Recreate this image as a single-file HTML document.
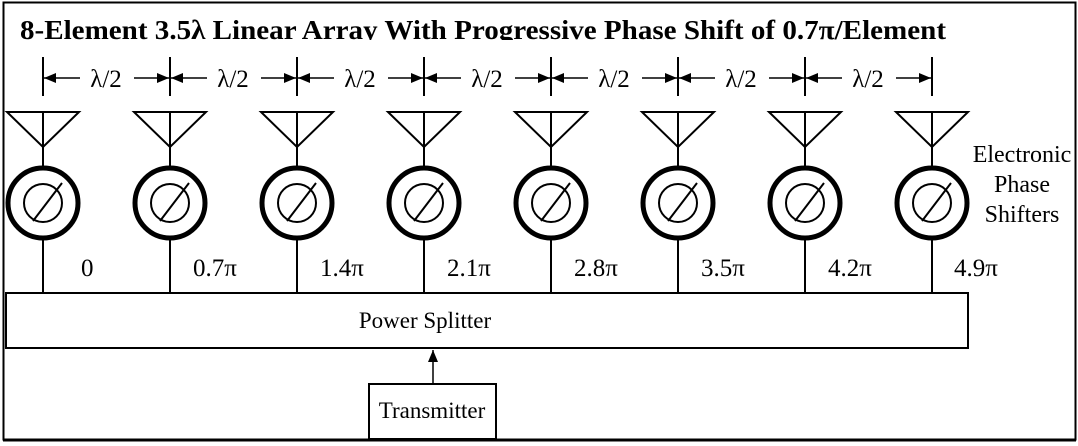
<!DOCTYPE html>
<html><head><meta charset="utf-8"><style>
html,body{margin:0;padding:0;background:#fff;}
svg{display:block;}
text{font-family:"Liberation Serif",serif;fill:#000;}
</style></head><body>
<svg width="1078" height="446" viewBox="0 0 1078 446" xmlns="http://www.w3.org/2000/svg">
<defs>
<marker id="ah" viewBox="0 0 12 10" refX="12" refY="5" markerWidth="12" markerHeight="10" markerUnits="userSpaceOnUse" orient="auto">
<path d="M0,0 L12,5 L0,10 Z" fill="#000"/></marker>
<clipPath id="tc"><rect x="0" y="0" width="1078" height="40"/></clipPath>
</defs>
<rect x="3.5" y="2.5" width="1072" height="437" fill="none" stroke="#000" stroke-width="2"/>
<line x1="3" y1="440" x2="1076" y2="440" stroke="#000" stroke-width="3"/>
<text x="20" y="39" font-size="27" font-weight="bold" textLength="926" lengthAdjust="spacingAndGlyphs" clip-path="url(#tc)">8-Element 3.5λ Linear Array With Progressive Phase Shift of 0.7π/Element</text>

<g stroke="#000" fill="none">
<g stroke-width="2">
<line x1="43" y1="57" x2="43" y2="96"/><line x1="170" y1="57" x2="170" y2="96"/><line x1="297" y1="57" x2="297" y2="96"/><line x1="424" y1="57" x2="424" y2="96"/><line x1="551" y1="57" x2="551" y2="96"/><line x1="678" y1="57" x2="678" y2="96"/><line x1="805" y1="57" x2="805" y2="96"/><line x1="932" y1="57" x2="932" y2="96"/>
</g>
<g stroke-width="1.5" marker-end="url(#ah)">
<line x1="80" y1="78" x2="44" y2="78"/><line x1="134" y1="78" x2="169" y2="78"/>
<line x1="207" y1="78" x2="171" y2="78"/><line x1="261" y1="78" x2="296" y2="78"/>
<line x1="334" y1="78" x2="298" y2="78"/><line x1="388" y1="78" x2="423" y2="78"/>
<line x1="461" y1="78" x2="425" y2="78"/><line x1="515" y1="78" x2="550" y2="78"/>
<line x1="588" y1="78" x2="552" y2="78"/><line x1="642" y1="78" x2="677" y2="78"/>
<line x1="715" y1="78" x2="679" y2="78"/><line x1="769" y1="78" x2="804" y2="78"/>
<line x1="842" y1="78" x2="806" y2="78"/><line x1="896" y1="78" x2="931" y2="78"/>
</g>
</g>
<g font-size="25" text-anchor="middle">
<text x="106" y="87">λ/2</text><text x="233" y="87">λ/2</text><text x="360" y="87">λ/2</text><text x="487" y="87">λ/2</text><text x="614" y="87">λ/2</text><text x="741" y="87">λ/2</text><text x="868" y="87">λ/2</text>
</g>

<defs>
<g id="el" stroke="#000" fill="none">
<path d="M-36,112 L36,112 L0,147 Z M0,112 L0,166" stroke-width="2"/>
<circle cx="0" cy="203" r="35" stroke-width="5"/>
<circle cx="0" cy="203" r="19" stroke-width="2"/>
<line x1="-10" y1="221" x2="19" y2="183" stroke-width="2"/>
<line x1="0" y1="240" x2="0" y2="293" stroke-width="2"/>
</g>
</defs>
<use href="#el" x="43"/><use href="#el" x="170"/><use href="#el" x="297"/><use href="#el" x="424"/><use href="#el" x="551"/><use href="#el" x="678"/><use href="#el" x="805"/><use href="#el" x="932"/>

<g font-size="25">
<text x="81" y="276">0</text>
<text x="193" y="276">0.7π</text>
<text x="320" y="276">1.4π</text>
<text x="447" y="276">2.1π</text>
<text x="574" y="276">2.8π</text>
<text x="701" y="276">3.5π</text>
<text x="828" y="276">4.2π</text>
<text x="954" y="276">4.9π</text>
</g>
<g font-size="24" text-anchor="middle">
<text x="1022" y="162">Electronic</text>
<text x="1022" y="192">Phase</text>
<text x="1022" y="222">Shifters</text>
</g>

<rect x="6" y="293" width="962" height="55" fill="none" stroke="#000" stroke-width="2"/>
<text x="425" y="328" font-size="23" text-anchor="middle">Power Splitter</text>
<line x1="433" y1="384" x2="433" y2="350" stroke="#000" stroke-width="1.5" marker-end="url(#ah)"/>
<rect x="369" y="384" width="127" height="55" fill="none" stroke="#000" stroke-width="2"/>
<text x="432" y="418" font-size="23" text-anchor="middle">Transmitter</text>
</svg>
</body></html>
